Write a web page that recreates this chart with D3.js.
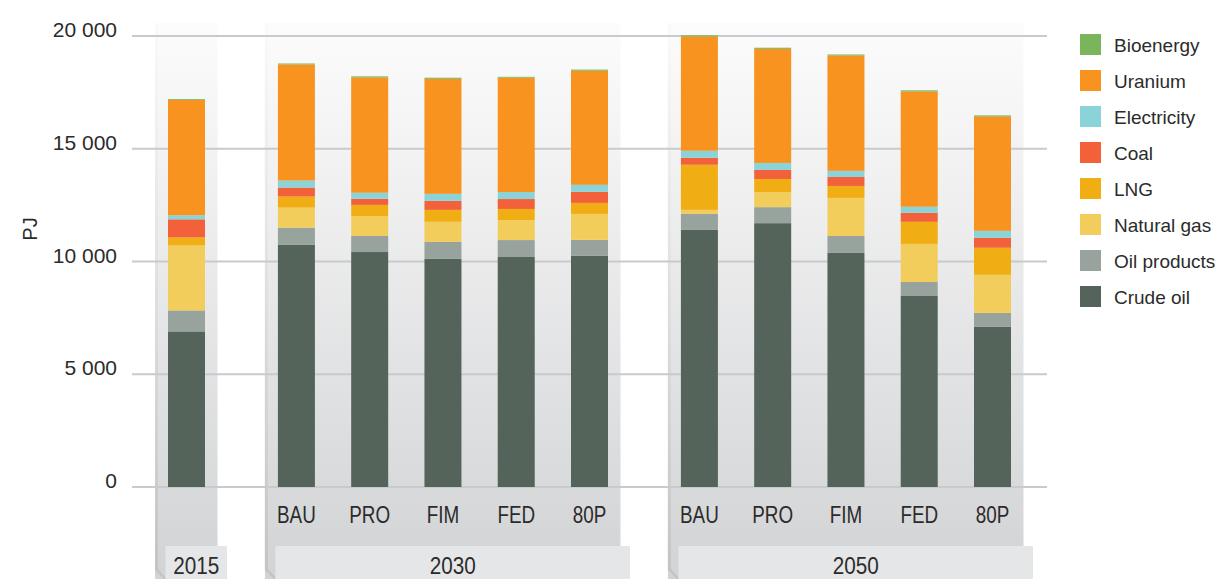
<!DOCTYPE html>
<html>
<head>
<meta charset="utf-8">
<script src="https://cdn.jsdelivr.net/npm/d3@7"></script>
<style>
  body { margin: 0; background: #fff; }
  svg { display: block; }
  text { font-family: "Liberation Sans", Arial, sans-serif; fill: #2b2b2b; }
</style>
</head>
<body>
<svg width="1219" height="579"></svg>
<script>
const W = 1219
const H = 579

// bars, left to right
const years = ["2015", "2030", "2050"]
const scenarios = ["BAU", "PRO", "FIM", "FED", "80P"]
const barYear = ["2015", "2030", "2030", "2030", "2030", "2030", "2050", "2050", "2050", "2050", "2050"]
const barLabel = ["", "BAU", "PRO", "FIM", "FED", "80P", "BAU", "PRO", "FIM", "FED", "80P"]
const barSlot = [0, 1.5, 2.5, 3.5, 4.5, 5.5, 7, 8, 9, 10, 11]

// PJ per fuel, same order as bars
const crudeOil    = [6900, 10750, 10420, 10120, 10200, 10250, 11400, 11700, 10380, 8470, 7100]
const oilProducts = [930, 750, 710, 750, 750, 710, 710, 710, 750, 620, 620]
const naturalGas  = [2880, 890, 890, 890, 890, 1150, 180, 670, 1690, 1690, 1690]
const lng         = [360, 490, 490, 530, 490, 490, 2000, 580, 530, 980, 1200]
const coal        = [800, 400, 270, 400, 440, 490, 310, 400, 400, 400, 440]
const electricity = [180, 310, 270, 310, 310, 310, 310, 310, 270, 270, 310]
const uranium     = [5110, 5150, 5110, 5100, 5070, 5060, 5070, 5060, 5110, 5110, 5070]
const bioenergy   = [40, 40, 50, 50, 40, 50, 50, 50, 50, 50, 50]

const seriesNames = ["Crude oil", "Oil products", "Natural gas", "LNG", "Coal", "Electricity", "Uranium", "Bioenergy"]
const seriesValues = [crudeOil, oilProducts, naturalGas, lng, coal, electricity, uranium, bioenergy]
const seriesColors = ["#54645b", "#97a39c", "#f3cd5c", "#f0ae14", "#f26139", "#89d3d9", "#f7931e", "#7ab55c"]

const yTicks = [0, 5000, 10000, 15000, 20000]

const svg = d3.select("svg")

const x = d3.scaleLinear().domain([0, 11]).range([186.5, 992.5])
const y = d3.scaleLinear().domain([0, 20000]).range([487, 36])
const color = d3.scaleOrdinal().domain(seriesNames).range(seriesColors)
const BAR_W = 37

// table for the stack
const table = barLabel.map(function(lab, i) {
    let row = { i: i, year: barYear[i], label: lab, slot: barSlot[i] }
    seriesNames.forEach(function(s, k) { row[s] = seriesValues[k][i] })
    return row
})
const stacked = d3.stack().keys(seriesNames)(table)

// gradients
const defs = svg.append("defs")
const grad = defs.append("linearGradient")
    .attr("id", "panelGrad")
    .attr("x1", 0).attr("y1", 0).attr("x2", 0).attr("y2", 1)
grad.append("stop").attr("offset", "0%").attr("stop-color", "#fcfcfc")
grad.append("stop").attr("offset", "100%").attr("stop-color", "#d2d3d5")
const sideGrad = defs.append("linearGradient")
    .attr("id", "sideGrad")
    .attr("x1", 0).attr("y1", 0).attr("x2", 0).attr("y2", 1)
sideGrad.append("stop").attr("offset", "0%").attr("stop-color", "#fafafa")
sideGrad.append("stop").attr("offset", "100%").attr("stop-color", "#c2c3c5")

// panels per year
const panels = years.map(function(yr) {
    const slots = table.filter(d => d.year === yr).map(d => d.slot)
    return { year: yr, x0: x(d3.min(slots)) - 31.5, x1: x(d3.max(slots)) + 31 }
})

const panelG = svg.append("g")
panelG.selectAll("rect.panel")
    .data(panels)
    .join("rect")
    .attr("class", "panel")
    .attr("x", d => d.x0)
    .attr("y", 23)
    .attr("width", d => d.x1 - d.x0)
    .attr("height", H - 23)
    .attr("fill", "url(#panelGrad)")
panelG.selectAll("polygon.side")
    .data(panels)
    .join("polygon")
    .attr("class", "side")
    .attr("points", d => [[d.x0, 23], [d.x0 + 3, 23], [d.x0 + 3, 569], [d.x0 + 12, 579], [d.x0 + 9, 579], [d.x0, 570]].join(" "))
    .attr("fill", "url(#sideGrad)")

// gridlines
svg.append("g")
    .selectAll("line")
    .data(yTicks)
    .join("line")
    .attr("x1", 132)
    .attr("x2", 1047)
    .attr("y1", d => y(d))
    .attr("y2", d => y(d))
    .attr("stroke", "#c9cacc")
    .attr("stroke-width", 2)

// y tick labels
svg.append("g")
    .selectAll("text")
    .data(yTicks)
    .join("text")
    .attr("x", 117)
    .attr("y", d => y(d) + 1)
    .attr("text-anchor", "end")
    .style("font-size", "21px")
    .text(d => d === 0 ? "0" : (d / 1000) + " 000")

svg.append("text")
    .attr("transform", "translate(37,229) rotate(-90)")
    .attr("text-anchor", "middle")
    .style("font-size", "20px")
    .text("PJ")

// bars
svg.append("g")
    .selectAll("g")
    .data(stacked)
    .join("g")
    .attr("fill", d => color(d.key))
    .selectAll("rect")
    .data(d => d)
    .join("rect")
    .attr("x", d => x(d.data.slot) - BAR_W / 2)
    .attr("y", d => y(d[1]))
    .attr("width", BAR_W)
    .attr("height", d => y(d[0]) - y(d[1]))

// scenario labels (squeezed a bit, the original face is condensed)
svg.append("g")
    .selectAll("text")
    .data(table.filter(d => d.label !== ""))
    .join("text")
    .attr("transform", d => "translate(" + x(d.slot) + ",523) scale(0.82,1)")
    .attr("text-anchor", "middle")
    .style("font-size", "23px")
    .text(d => d.label)

// year label boxes
const yearG = svg.append("g")
yearG.selectAll("rect")
    .data(panels)
    .join("rect")
    .attr("x", d => d.x0 + 10.5)
    .attr("y", 546)
    .attr("width", d => d.x1 - d.x0 - 1)
    .attr("height", H - 546)
    .attr("fill", "#e5e6e8")
yearG.selectAll("text")
    .data(panels)
    .join("text")
    .attr("transform", d => "translate(" + ((d.x0 + d.x1) / 2 + 10) + ",574) scale(0.9,1)")
    .attr("text-anchor", "middle")
    .style("font-size", "23px")
    .text(d => d.year)

// legend, top to bottom
const legendOrder = seriesNames.slice().reverse()
const leg = svg.append("g")
    .selectAll("g")
    .data(legendOrder)
    .join("g")
    .attr("transform", (d, i) => "translate(1080," + (34 + i * 36) + ")")
leg.append("rect")
    .attr("width", 21)
    .attr("height", 21)
    .attr("fill", d => color(d))
leg.append("text")
    .attr("x", 34)
    .attr("y", 17.5)
    .style("font-size", "19px")
    .text(d => d)
</script>
</body>
</html>
